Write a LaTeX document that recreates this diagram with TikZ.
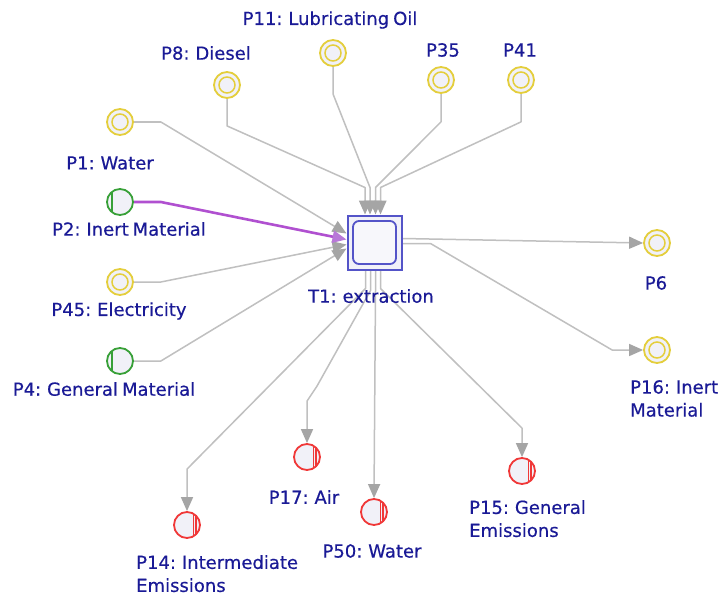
\documentclass[tikz,border=0pt]{standalone}
\usepackage{fontspec}
\usetikzlibrary{arrows.meta}
\newfontfamily\labfont[WordSpace=0.7, FakeBold=0.4]{DejaVu Sans}

\pgfdeclarelayer{links}
\pgfsetlayers{links,main}

\definecolor{bgfill}{RGB}{241,241,248}
\definecolor{ycol}{RGB}{228,206,60}
\definecolor{gcol}{RGB}{56,160,56}
\definecolor{rcol}{RGB}{240,56,56}
\definecolor{boxcol}{RGB}{84,84,200}
\definecolor{txtcol}{RGB}{26,26,150}
\definecolor{linecol}{RGB}{192,192,192}
\definecolor{tipcol}{RGB}{165,165,165}
\definecolor{flowcol}{RGB}{176,80,208}
\definecolor{flowtip}{RGB}{184,120,216}

\tikzset{
  lbl/.style={font=\labfont\fontsize{18}{23}\selectfont, text=txtcol, inner sep=0pt, align=center},
  lbll/.style={lbl, align=left, anchor=north west},
  place/.style={circle, inner sep=0pt, minimum size=26pt, fill=bgfill, line width=1.8pt},
  input/.style={place, draw=ycol,
    path picture={\draw[ycol, line width=1.5pt] (path picture bounding box.center) circle (8pt);}},
  material/.style={place, draw=gcol,
    path picture={\draw[gcol, line width=1.3pt]
      ([xshift=-8pt]path picture bounding box.north) -- ([xshift=-8pt]path picture bounding box.south);}},
  emission/.style={place, draw=rcol,
    path picture={\draw[rcol, line width=1.1pt]
      ([xshift=6.5pt]path picture bounding box.north) -- ([xshift=6.5pt]path picture bounding box.south)
      ([xshift=9pt]path picture bounding box.north) -- ([xshift=9pt]path picture bounding box.south);}},
  transition/.style={rectangle, inner sep=0pt, minimum size=54pt, draw=boxcol, fill=bgfill, line width=2pt},
  innerbox/.style={rectangle, rounded corners=6pt, inner sep=0pt, minimum size=43pt,
    draw=boxcol, fill=bgfill!60!white, line width=1.8pt},
  conn/.style={draw=linecol, line width=1.5pt, line join=round,
    -{Triangle[length=14pt, width=12pt, fill=tipcol, color=tipcol]}},
  flow/.style={draw=flowcol, line width=2.6pt, line join=round,
    -{Triangle[length=14pt, width=12pt, fill=flowtip, color=flowtip]}},
}

\begin{document}
\begin{tikzpicture}[x=1pt, y=-1pt]
  \begin{pgfonlayer}{links}
    \useasboundingbox[fill=white] (0,0) rectangle (722,599);
  \end{pgfonlayer}

  % transition: framed square with a rounded square inside
  \node[transition] (t1) at (374.5,242.5) {};
  \node[innerbox] (t1in) at (t1.center) {};
  \node[lbl] (t1l) at (371,296) {T1: extraction};

  % inputs on the left
  \node[input]    (p1)  at (120,122) {};
  \node[material] (p2)  at (120,202) {};
  \node[input]    (p45) at (120,282) {};
  \node[material] (p4)  at (120,361) {};
  \node[lbl] (p1l)  at (110,163) {P1: Water};
  \node[lbl] (p2l)  at (129,229) {P2: Inert Material};
  \node[lbl] (p45l) at (119,311) {P45: Electricity};
  \node[lbl] (p4l)  at (104,389) {P4: General Material};

  % inputs on top
  \node[input] (p8)  at (227,85) {};
  \node[input] (p11) at (333,53) {};
  \node[input] (p35) at (441,80) {};
  \node[input] (p41) at (521,80) {};
  \node[lbl] (p8l)  at (206,53) {P8: Diesel};
  \node[lbl] (p11l) at (330,20) {P11: Lubricating Oil};
  \node[lbl] (p35l) at (443,50) {P35};
  \node[lbl] (p41l) at (520,50) {P41};

  % outputs on the right
  \node[input] (p6)  at (657,243) {};
  \node[input] (p16) at (657,350) {};
  \node[lbl]  (p6l)  at (656,283) {P6};
  \node[lbll] (p16l) at (630,380) {P16: Inert\\Material};

  % emissions below
  \node[emission] (p14) at (187,525) {};
  \node[emission] (p17) at (307,457) {};
  \node[emission] (p50) at (374,512) {};
  \node[emission] (p15) at (522,471) {};
  \node[lbll] (p14l) at (136,555) {P14: Intermediate\\Emissions};
  \node[lbl]  (p17l) at (304,497) {P17: Air};
  \node[lbl]  (p50l) at (372,551) {P50: Water};
  \node[lbll] (p15l) at (469,500) {P15: General\\Emissions};

  \begin{pgfonlayer}{links}
    % flows entering from the left
    \draw[conn] (p1.east)  -- ++(27,0) -- ([yshift=9pt]t1.west);
    \draw[conn] (p45.east) -- ++(27,0) -- ([yshift=-2pt]t1.west);
    \draw[conn] (p4.east)  -- ++(27,0) -- ([yshift=-6pt]t1.west);
    \draw[flow] (p2.east)  -- ++(27,0) -- ([yshift=3pt]t1.west);

    % flows entering from the top
    \draw[conn] (p8.south)  -- ++(0,27) -- ([xshift=-9.5pt,yshift=27pt]t1.north) -- ([xshift=-9.5pt]t1.north);
    \draw[conn] (p11.south) -- ++(0,27) -- ([xshift=-4.5pt,yshift=27pt]t1.north) -- ([xshift=-4.5pt]t1.north);
    \draw[conn] (p35.south) -- ++(0,28) -- ([xshift=1pt,yshift=27pt]t1.north) -- ([xshift=1pt]t1.north);
    \draw[conn] (p41.south) -- ++(0,28) -- ([xshift=6pt,yshift=27pt]t1.north) -- ([xshift=6pt]t1.north);

    % flows leaving to the right
    \draw[conn] ([yshift=4pt]t1.east) -- (p6.west);
    \draw[conn] ([yshift=-1pt]t1.east) -- ++(28,0) -- ([xshift=-31pt]p16.west) -- (p16.west);

    % flows leaving downwards
    \draw[conn] ([xshift=-9pt]t1.south) -- ++(0,18) -- ([yshift=42pt]p14.north) -- (p14.north);
    \draw[conn] ([xshift=-4pt]t1.south) -- ++(0,20) -- ([xshift=10pt,yshift=57pt]p17.north) -- ([yshift=42pt]p17.north) -- (p17.north);
    \draw[conn] ([xshift=1pt]t1.south)  -- ++(0,20) -- (p50.north);
    \draw[conn] ([xshift=6pt]t1.south)  -- ++(0,18) -- ([yshift=29pt]p15.north) -- (p15.north);
  \end{pgfonlayer}
\end{tikzpicture}
\end{document}
